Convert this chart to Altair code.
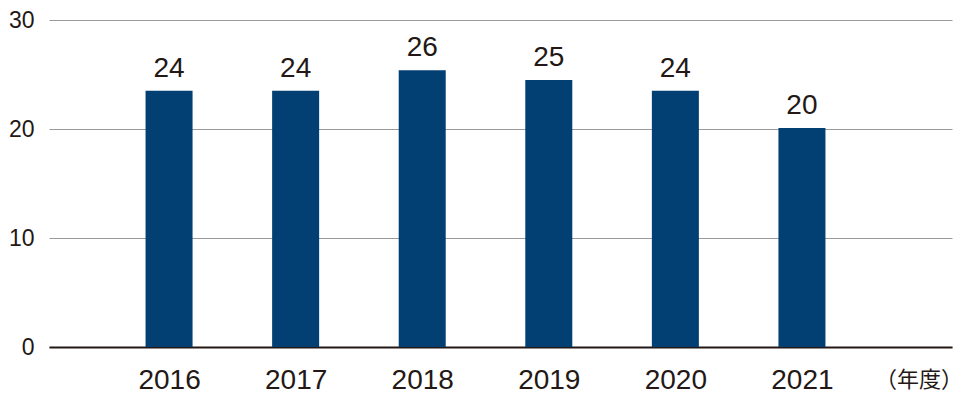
import altair as alt
import pandas as pd

years = [2016, 2017, 2018, 2019, 2020, 2021]
values = [23.5, 23.5, 25.4, 24.5, 23.5, 20.1]
labels = ["24", "24", "26", "25", "24", "20"]
unit_label = "（年度）"

df = pd.DataFrame({"year": years, "value": values, "label": labels})

W, H = 903, 327
FONT = "Liberation Sans"
TXT = "#231815"

x = alt.X("year:Q",
          scale=alt.Scale(domain=[2015.091, 2022.146], nice=False, zero=False),
          axis=alt.Axis(values=years, format="d", title=None, ticks=False,
                        grid=False, labelFontSize=28, labelPadding=19,
                        labelColor=TXT, labelFont=FONT, domainColor=TXT,
                        domainWidth=2))
y = alt.Y("value:Q",
          scale=alt.Scale(domain=[0, 30], nice=False),
          axis=alt.Axis(values=[0, 10, 20, 30], title=None, ticks=False,
                        domain=False, gridColor="#9a9a9a", gridWidth=1,
                        labelFontSize=23, labelPadding=15, labelColor=TXT,
                        labelFont=FONT))

bars = alt.Chart(df).mark_bar(size=47, color="#023f73").encode(x=x, y=y)

text = alt.Chart(df).mark_text(baseline="bottom", dy=-8, fontSize=28,
                               font=FONT, color=TXT).encode(
    x="year:Q", y="value:Q", text="label:N")

unit = alt.Chart(pd.DataFrame({"t": [unit_label]})).mark_text(
    fontSize=22, font="Noto Sans CJK JP", color=TXT, baseline="middle",
    align="center").encode(x=alt.value(870), y=alt.value(H + 33), text="t:N")

chart = (bars + text + unit).properties(
    width=W, height=H,
    autosize=alt.AutoSizeParams(type="none"),
    padding={"left": 41, "top": 12, "right": 2, "bottom": 48},
).configure_view(stroke=None)

chart.save("out.html", embed_options={"renderer": "svg", "actions": False})
